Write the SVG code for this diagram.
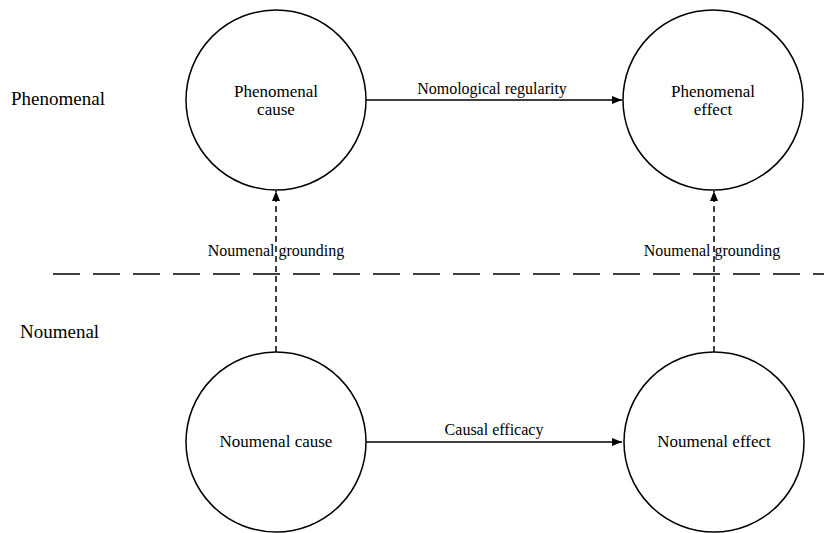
<svg xmlns="http://www.w3.org/2000/svg" width="824" height="533" viewBox="0 0 824 533">
<defs>
<style>
text{font-family:"Liberation Serif","Times New Roman",serif;font-size:17px;fill:#000}
.c{text-anchor:middle}
.l{font-size:19px}
.el{font-size:16px}
circle{fill:#fff;stroke:#000;stroke-width:1.5}
.e{stroke:#000;stroke-width:1.5;fill:none}
.d{stroke-dasharray:6,4}
</style>
<marker id="b" viewBox="0 0 10 10" refX="10" refY="5" markerWidth="14" markerHeight="10" markerUnits="userSpaceOnUse" orient="auto"><path d="M0,1 L10,5 L0,9 z" fill="#000"/></marker>
</defs>
<text class="l" x="11" y="105">Phenomenal</text>
<text class="l" x="20" y="338">Noumenal</text>
<line x1="53" y1="274" x2="824" y2="274" stroke="#000" stroke-width="1.7" stroke-dasharray="27,13"/>
<g id="connectors">
<line class="e" x1="366" y1="100" x2="622" y2="100" marker-end="url(#b)"/>
<text class="c el" x="492" y="94">Nomological regularity</text>
<line class="e" x1="366" y1="442" x2="622" y2="442" marker-end="url(#b)"/>
<text class="c el" x="494" y="435">Causal efficacy</text>
<line class="e d" x1="276" y1="352" x2="276" y2="191" marker-end="url(#b)"/>
<text class="c el" x="276" y="256">Noumenal grounding</text>
<line class="e d" x1="714" y1="352" x2="714" y2="191" marker-end="url(#b)"/>
<text class="c el" x="712" y="256">Noumenal grounding</text>
</g>
<g id="phenomenal-cause"><circle cx="276" cy="100" r="90"/><text class="c" x="276" y="97">Phenomenal</text><text class="c" x="276" y="115">cause</text></g>
<g id="phenomenal-effect"><circle cx="713" cy="100" r="90"/><text class="c" x="713" y="97">Phenomenal</text><text class="c" x="713" y="115">effect</text></g>
<g id="noumenal-cause"><circle cx="276" cy="442" r="90"/><text class="c" x="276" y="447">Noumenal cause</text></g>
<g id="noumenal-effect"><circle cx="714" cy="442" r="90"/><text class="c" x="714" y="447">Noumenal effect</text></g>
</svg>
